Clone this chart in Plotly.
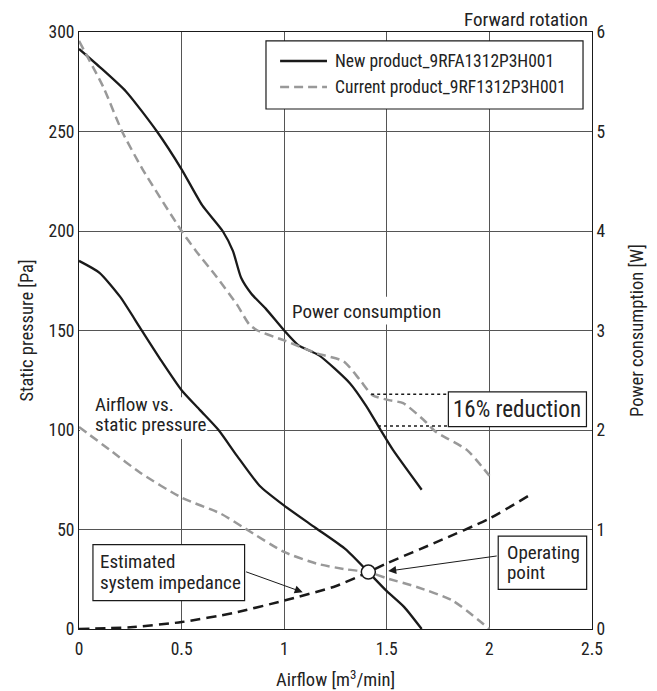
import plotly.graph_objects as go

FONT = "Liberation Sans Narrow, Roboto Condensed, Roboto, sans-serif"

# ---- data ----
# Airflow vs static pressure [Pa]
new_pq_x = [0, 0.10, 0.20, 0.30, 0.40, 0.50, 0.59, 0.68, 0.77, 0.88, 1.00, 1.15, 1.30, 1.41, 1.50, 1.585, 1.67]
new_pq_y = [185, 179, 167, 151, 135, 120, 110, 100, 87, 72, 62, 51, 40, 28.6, 19, 11, 0]

cur_pq_x = [0, 0.15, 0.30, 0.50, 0.69, 0.81, 1.00, 1.16, 1.30, 1.41, 1.50, 1.65, 1.82, 2.00]
cur_pq_y = [101.5, 90, 78.4, 66, 58, 50.5, 38.7, 32.8, 30, 28.6, 25.5, 21, 14.3, 0]

# Power consumption [W]
new_pw_x = [0, 0.10, 0.23, 0.38, 0.50, 0.60, 0.70, 0.75, 0.79, 0.84, 0.91, 1.00, 1.07, 1.17, 1.32, 1.40, 1.47, 1.53, 1.67]
new_pw_y = [5.83, 5.65, 5.40, 5.00, 4.62, 4.26, 4.00, 3.80, 3.53, 3.37, 3.22, 3.00, 2.85, 2.75, 2.47, 2.24, 2.00, 1.80, 1.40]

cur_pw_x = [0, 0.12, 0.21, 0.31, 0.50, 0.57, 0.67, 0.77, 0.83, 0.87, 1.00, 1.16, 1.29, 1.37, 1.43, 1.51, 1.58, 1.68, 1.74, 1.89, 2.00]
cur_pw_y = [5.91, 5.44, 5.00, 4.62, 4.00, 3.80, 3.54, 3.26, 3.06, 3.00, 2.90, 2.77, 2.69, 2.50, 2.35, 2.30, 2.27, 2.10, 1.98, 1.80, 1.54]

# Estimated system impedance [Pa]
imp_x = [0, 0.25, 0.50, 0.75, 1.00, 1.25, 1.41, 1.50, 1.75, 2.00, 2.20]
imp_y = [0, 0.9, 3.5, 8.0, 14.3, 21.5, 28.6, 33, 44, 55.5, 67.5]

# Operating point
op_x = [1.41]
op_y = [28.6]

# 16% reduction levels [W]
red_hi_w = 2.36
red_lo_w = 2.04

x_ticks = [0, 0.5, 1, 1.5, 2, 2.5]
y_ticks = [0, 50, 100, 150, 200, 250, 300]
y2_ticks = [0, 1, 2, 3, 4, 5, 6]

NEW_NAME = "New product_9RFA1312P3H001"
CUR_NAME = "Current product_9RF1312P3H001"

BLACK = "#1a1a1a"
GRAY = "#999999"
TXT = "#222222"
LBL = 19
NEW_LINE = dict(color=BLACK, width=2.3)
CUR_LINE = dict(color=GRAY, width=2.5, dash="9px,5px")

fig = go.Figure()

fig.add_trace(go.Scatter(x=new_pw_x, y=new_pw_y, yaxis="y2", mode="lines", name=NEW_NAME,
                         showlegend=False, line=dict(**NEW_LINE, shape="spline", smoothing=0.6)))
fig.add_trace(go.Scatter(x=cur_pw_x, y=cur_pw_y, yaxis="y2", mode="lines", name=CUR_NAME,
                         showlegend=False, line=dict(**CUR_LINE, shape="spline", smoothing=0.6)))
fig.add_trace(go.Scatter(x=new_pq_x, y=new_pq_y, mode="lines", name=NEW_NAME,
                         showlegend=False, line=dict(**NEW_LINE, shape="spline", smoothing=0.6)))
fig.add_trace(go.Scatter(x=cur_pq_x, y=cur_pq_y, mode="lines", name=CUR_NAME,
                         showlegend=False, line=dict(**CUR_LINE, shape="spline", smoothing=0.6)))
fig.add_trace(go.Scatter(x=imp_x, y=imp_y, mode="lines", name="Estimated system impedance",
                         showlegend=False,
                         line=dict(color=BLACK, width=2.5, dash="10px,6px", shape="spline", smoothing=0.6)))
fig.add_trace(go.Scatter(x=op_x, y=op_y, mode="markers", name="Operating point", showlegend=False,
                         marker=dict(symbol="circle", size=14, color="white",
                                     line=dict(color=BLACK, width=1.5))))

# legend box layout (paper coordinates)
LEG_X0, LEG_X1, LEG_Y0, LEG_Y1 = 0.3645, 0.9825, 0.871, 0.985
LEG_SX0, LEG_SX1, LEG_TX = 0.392, 0.4834, 0.4951
LEG_ROWS = [(NEW_NAME, NEW_LINE, 0.9514), (CUR_NAME, CUR_LINE, 0.9079)]

shapes = [
    # white backgrounds behind free labels (between grid and traces)
    dict(type="rect", xref="x", yref="y", x0=1.02, x1=1.78, y0=153, y1=167,
         fillcolor="white", line=dict(width=0), layer="between"),
    dict(type="rect", xref="x", yref="y", x0=0.005, x1=0.625, y0=95.5, y1=116.5,
         fillcolor="white", line=dict(width=0), layer="between"),
    # 16% reduction dotted guides
    dict(type="line", xref="x", yref="y2", x0=1.424, x1=1.80, y0=red_hi_w, y1=red_hi_w,
         line=dict(color=BLACK, width=1.5, dash="dot")),
    dict(type="line", xref="x", yref="y2", x0=1.457, x1=1.80, y0=red_lo_w, y1=red_lo_w,
         line=dict(color=BLACK, width=1.5, dash="dot")),
    # boxes
    dict(type="rect", xref="x", yref="y", x0=1.80, x1=2.473, y0=101.7, y1=119.2,
         fillcolor="white", line=dict(color=BLACK, width=1.2), layer="above"),
    dict(type="rect", xref="x", yref="y", x0=0.068, x1=0.807, y0=14.3, y1=42.4,
         fillcolor="white", line=dict(color=BLACK, width=1.2), layer="above"),
    dict(type="rect", xref="x", yref="y", x0=2.043, x1=2.474, y0=19.9, y1=46.7,
         fillcolor="white", line=dict(color=BLACK, width=1.2), layer="above"),
    # legend box
    dict(type="rect", xref="paper", yref="paper", x0=LEG_X0, x1=LEG_X1, y0=LEG_Y0, y1=LEG_Y1,
         fillcolor="white", line=dict(color=BLACK, width=1.2), layer="above"),
]
for _, ln, yy in LEG_ROWS:
    shapes.append(dict(type="line", xref="paper", yref="paper", x0=LEG_SX0, x1=LEG_SX1,
                       y0=yy, y1=yy, line=ln, layer="above"))


def label(text, x, y, size=LBL, xanchor="left"):
    return dict(text=text, x=x, y=y, xref="x", yref="y", showarrow=False,
                font=dict(family=FONT, size=size, color=TXT),
                xanchor=xanchor, yanchor="middle")


annotations = [
    label("16% reduction", 2.1365, 110.45, size=23, xanchor="center"),
    label("Estimated", 0.094, 33.7),
    label("system impedance", 0.094, 23.6),
    label("Operating", 2.075, 38.2),
    label("point", 2.075, 28.2),
    label("Power consumption", 1.03, 159.5),
    label("Airflow vs.", 0.066, 113.0),
    label("static pressure", 0.066, 103.0),
    dict(text="Forward rotation", x=0.996, y=1.0402, xref="paper", yref="paper", showarrow=False,
         font=dict(family=FONT, size=LBL, color=TXT), xanchor="right", yanchor="top", yshift=2),
    # arrows
    dict(text="", x=1.09, y=18.5, ax=0.807, ay=29.0, xref="x", yref="y", axref="x", ayref="y",
         showarrow=True, arrowhead=2, arrowsize=1.6, arrowwidth=1, arrowcolor=BLACK),
    dict(text="", x=1.507, y=29.1, ax=2.043, ay=36.8, xref="x", yref="y", axref="x", ayref="y",
         showarrow=True, arrowhead=2, arrowsize=1.6, arrowwidth=1, arrowcolor=BLACK),
]
for name, _, yy in LEG_ROWS:
    annotations.append(dict(text=name, x=LEG_TX, y=yy, xref="paper", yref="paper", showarrow=False,
                            font=dict(family=FONT, size=17.5, color=TXT),
                            xanchor="left", yanchor="middle"))

TICKF = dict(family=FONT, size=17.5, color=TXT)
TITLEF = dict(family=FONT, size=18.5, color=TXT)
axis_common = dict(showline=True, linecolor=BLACK, linewidth=1,
                   tickfont=TICKF, zeroline=False, automargin=False)

fig.update_layout(
    width=649, height=691,
    margin=dict(l=71, r=65, t=24, b=70),
    paper_bgcolor="white", plot_bgcolor="white",
    font=dict(family=FONT, size=17, color=TXT),
    showlegend=False,
    xaxis=dict(range=[0, 2.5], tickvals=x_ticks, ticktext=[f"{v:g}" for v in x_ticks],
               showgrid=True, gridcolor="#555555", gridwidth=1, mirror=True,
               ticks="outside", ticklen=4, tickcolor="rgba(0,0,0,0)",
               title=dict(text="Airflow [m<sup>3</sup>/min]", font=TITLEF, standoff=15),
               **axis_common),
    yaxis=dict(range=[0, 300], tickvals=y_ticks, ticktext=[str(v) for v in y_ticks],
               showgrid=True, gridcolor="#555555", gridwidth=1, mirror=True, ticks="",
               title=dict(text="Static pressure [Pa]", font=TITLEF, standoff=10),
               **axis_common),
    yaxis2=dict(range=[0, 6], tickvals=y2_ticks, ticktext=[str(v) for v in y2_ticks],
                overlaying="y", side="right", showgrid=False, ticks="",
                title=dict(text="Power consumption [W]", font=TITLEF, standoff=25),
                **axis_common),
    shapes=shapes,
    annotations=annotations,
)

fig.write_html("out.html")
